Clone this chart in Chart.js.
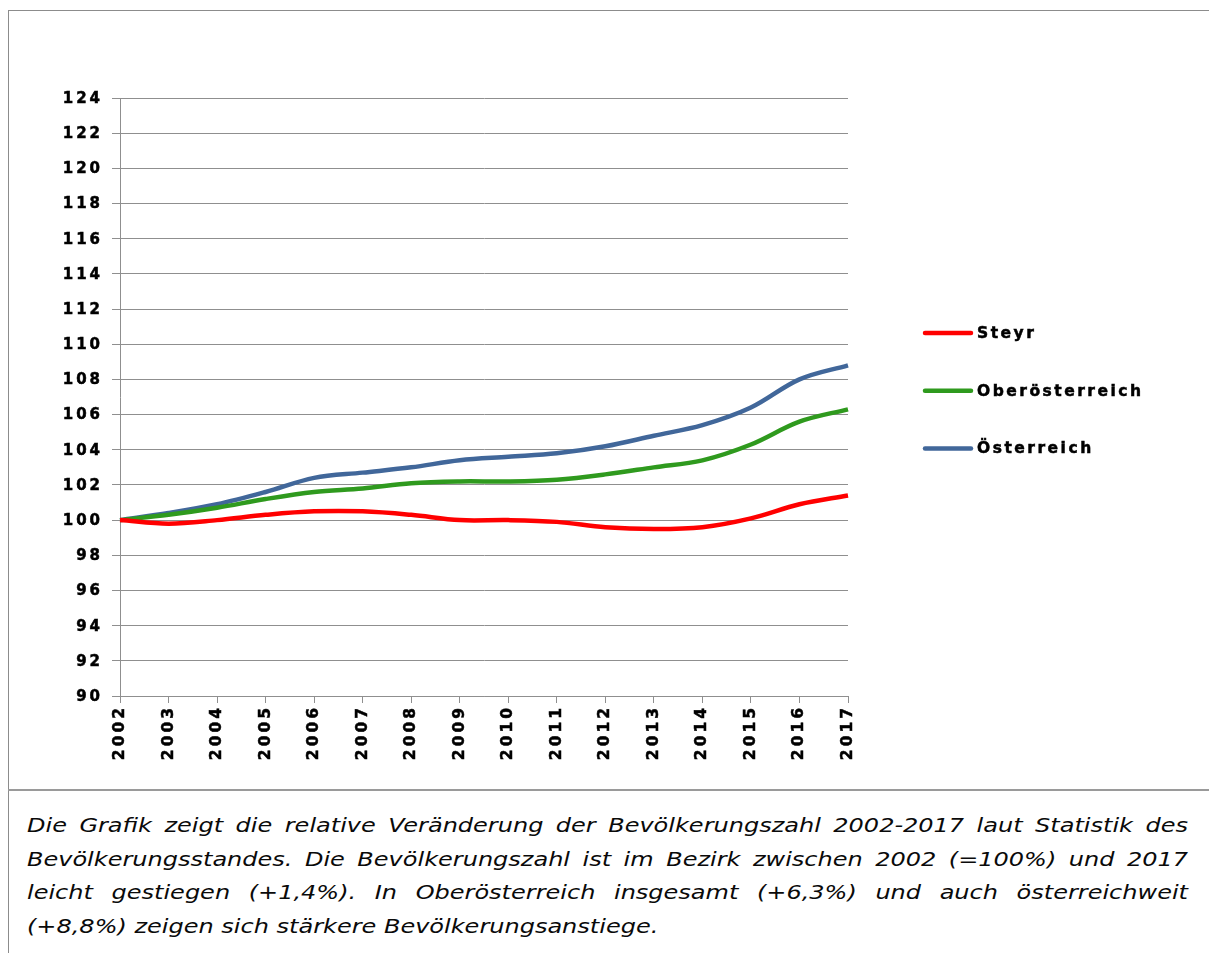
<!DOCTYPE html>
<html>
<head>
<meta charset="utf-8">
<script src="https://cdn.jsdelivr.net/npm/chart.js@4/dist/chart.umd.min.js"></script>
<style>
  html, body { margin: 0; padding: 0; background: #fff; }
  body { width: 1209px; height: 953px; position: relative; overflow: hidden; }
  #wrap { position: absolute; left: 0; top: 0; width: 1209px; height: 790px; }
  .bt { position: absolute; left: 8px; top: 10px; width: 1201px; height: 0; border-top: 1px solid #8c8c8c; }
  .bl { position: absolute; left: 8px; top: 10px; width: 0; height: 943px; border-left: 1px solid #8c8c8c; }
  .bs { position: absolute; left: 8px; top: 789px; width: 1201px; height: 0; border-top: 2px solid #9a9a9a; }
  #caption { position: absolute; left: 27px; top: 809px; width: 967.5px;
    transform: scaleX(1.2); transform-origin: 0 0;
    font-family: "DejaVu Sans", Verdana, sans-serif; font-style: italic; font-size: 20px; color: #0a0a0a; }
  #caption div { height: 33.5px; line-height: 33.5px; text-align: justify; text-align-last: justify; white-space: nowrap; }
  #caption div.last { text-align-last: left; }
</style>
</head>
<body>
<div id="wrap"><canvas id="c" width="1209" height="790"></canvas></div>
<div class="bt"></div>
<div class="bl"></div>
<div class="bs"></div>
<div id="caption">
  <div>Die Grafik zeigt die relative Veränderung der Bevölkerungszahl 2002-2017 laut Statistik des</div>
  <div>Bevölkerungsstandes. Die Bevölkerungszahl ist im Bezirk zwischen 2002 (=100%) und 2017</div>
  <div>leicht gestiegen (+1,4%). In Oberösterreich insgesamt (+6,3%) und auch österreichweit</div>
  <div class="last">(+8,8%) zeigen sich stärkere Bevölkerungsanstiege.</div>
</div>
<script>
const years = ["2002","2003","2004","2005","2006","2007","2008","2009","2010","2011","2012","2013","2014","2015","2016","2017"];
const steyr = [100.0, 99.8, 100.0, 100.3, 100.5, 100.5, 100.3, 100.0, 100.0, 99.9, 99.6, 99.5, 99.6, 100.1, 100.9, 101.4];
const oberoesterreich = [100.0, 100.3, 100.7, 101.2, 101.6, 101.8, 102.1, 102.2, 102.2, 102.3, 102.6, 103.0, 103.4, 104.3, 105.6, 106.3];
const oesterreich = [100.0, 100.4, 100.9, 101.6, 102.4, 102.7, 103.0, 103.4, 103.6, 103.8, 104.2, 104.8, 105.4, 106.4, 108.0, 108.8];
const seriesNames = ["Steyr", "Oberösterreich", "Österreich"];
const yMin = 90, yMax = 124, yStep = 2;

const colors = ["#ff0000", "#2f9a1e", "#41679a"];
const FONT_Y = { family: "'DejaVu Sans', Verdana, sans-serif", size: 15, weight: "bold" };
const FONT_X = { family: "'DejaVu Sans', Verdana, sans-serif", size: 15.5, weight: "bold" };
const SPACING = "3px";
const gridColor = "#8f8f8f";

const spacingPlugin = {
  id: "spacing",
  beforeUpdate(chart) { chart.ctx.letterSpacing = SPACING; },
  beforeDraw(chart) { chart.ctx.letterSpacing = SPACING; }
};

const legendPlugin = {
  id: "sideLegend",
  afterDraw(chart) {
    const ctx = chart.ctx;
    ctx.save();
    ctx.letterSpacing = "2.5px";
    chart.data.datasets.forEach((ds, i) => {
      const y = 333 + i * 57.7;
      ctx.beginPath();
      ctx.strokeStyle = ds.borderColor;
      ctx.lineWidth = 4.5;
      ctx.lineCap = "round";
      ctx.moveTo(925, y);
      ctx.lineTo(971, y);
      ctx.stroke();
      ctx.fillStyle = "#000";
      ctx.strokeStyle = "#000";
      ctx.lineWidth = 0.5;
      ctx.font = "bold 15.5px 'DejaVu Sans', Verdana, sans-serif";
      ctx.textBaseline = "middle";
      ctx.textAlign = "left";
      ctx.fillText(ds.label, 977, y + 1);
      ctx.strokeText(ds.label, 977, y + 1);
    });
    ctx.restore();
  }
};

const seriesData = [steyr, oberoesterreich, oesterreich];

new Chart(document.getElementById("c"), {
  type: "line",
  data: {
    labels: years,
    datasets: seriesData.map((d, i) => ({
      label: seriesNames[i],
      data: d,
      borderColor: colors[i],
      backgroundColor: colors[i],
      borderWidth: 4.5,
      pointRadius: 0,
      tension: 0.35,
      fill: false
    }))
  },
  options: {
    responsive: false,
    animation: false,
    devicePixelRatio: 1,
    layout: { padding: { left: 0, top: 98, right: 361, bottom: 0 } },
    plugins: { legend: { display: false }, tooltip: { enabled: false } },
    scales: {
      x: {
        offset: false,
        grid: { drawOnChartArea: false, color: gridColor, tickLength: 7, lineWidth: 1 },
        border: { color: gridColor, width: 1 },
        ticks: { minRotation: 90, maxRotation: 90, autoSkip: false, color: "#000", font: FONT_X, padding: 2,
                 textStrokeColor: "#000", textStrokeWidth: 0.5 },
        afterFit(scale) { scale.height = 94; }
      },
      y: {
        min: yMin, max: yMax,
        grid: { color: gridColor, tickLength: 8, lineWidth: 1 },
        border: { color: gridColor, width: 1 },
        ticks: { stepSize: yStep, color: "#000", font: FONT_Y, padding: 9, labelOffset: 1,
                 textStrokeColor: "#000", textStrokeWidth: 0.5 },
        afterFit(scale) { scale.width = 120; }
      }
    }
  },
  plugins: [spacingPlugin, legendPlugin]
});
</script>
</body>
</html>
